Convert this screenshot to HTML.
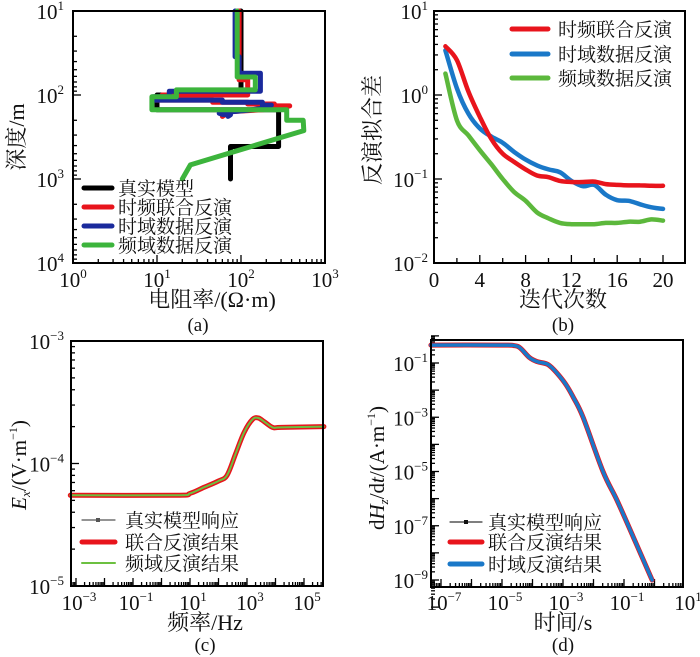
<!DOCTYPE html>
<html><head><meta charset="utf-8">
<style>
html,body{margin:0;padding:0;background:#fff;}
svg{display:block;font-family:"Liberation Serif","Noto Serif CJK SC",serif;}
</style></head>
<body>
<svg id="fig" width="700" height="657" viewBox="0 0 700 657" xmlns="http://www.w3.org/2000/svg"></svg>
<script>
// ---------- Panel (b) data ----------
const iterations = [1,2,3,4,5,6,7,8,9,10,11,12,13,14,15,16,17,18,19,20];
const misfitJoint = [3.8,2.6,1.1,0.55,0.3,0.2,0.16,0.13,0.11,0.105,0.095,0.092,0.092,0.093,0.087,0.085,0.084,0.084,0.083,0.083];
const misfitTime = [3.4,1.2,0.6,0.4,0.32,0.27,0.21,0.17,0.145,0.13,0.12,0.095,0.082,0.085,0.065,0.056,0.055,0.05,0.046,0.044];
const misfitFreq = [1.8,0.5,0.33,0.22,0.15,0.1,0.07,0.055,0.04,0.034,0.03,0.029,0.029,0.029,0.03,0.03,0.031,0.031,0.033,0.032];
// ---------- Panel (a) data: [resistivity, depth] ----------
const modelTrue = [[100,10],[100,100],[10,100],[10,150],[280,150],[280,410],[75,410],[75,1000]];
const modelJoint = [[95,10],[95,66],[120,66],[120,100],[11.5,100],[11.5,107],[9.5,107],[9.5,115],[46,115],[46,122],[120,122],[120,128],[250,128],[250,135],[380,135],[300,142],[180,150],[80,157],[67,167],[60,180]];
const modelTime = [[85,10],[85,35],[95,35],[95,55],[170,55],[170,90],[14,90],[14,105],[9,105],[9,115],[60,115],[60,122],[180,122],[180,132],[230,132],[200,142],[120,152],[70,160],[55,165],[60,170],[75,172],[70,180]];
const modelFreq = [[90,10],[90,61],[148,61],[148,87],[17,87],[17,105],[8.7,105],[8.7,150],[350,150],[350,200],[550,200],[560,265],[315,315],[25,680],[20,1000]];
// ---------- Panel (c) data ----------
const freqLog = [-3.2,0.5,1,1.5,2,2.3,2.6,2.9,3.2,3.4,3.6,3.9,4.2,5.7];
const exValues = [5.5e-5,5.5e-5,5.7e-5,6.4e-5,7.2e-5,8e-5,1.2e-4,1.8e-4,2.3e-4,2.35e-4,2.2e-4,1.97e-4,1.97e-4,2e-4];
// ---------- Panel (d) data ----------
const timeLog = [-7.33,-5,-4.6,-4.4,-4.1,-3.85,-3.5,-3.2,-2.9,-2.67,-2.34,-1.69,-1.23,-0.7,-0.08];
const dhdtLog = [-0.34,-0.34,-0.36,-0.45,-0.8,-0.95,-1.05,-1.37,-1.8,-2.25,-3,-5,-6.06,-7.4,-9];
// ---------- Tick labels ----------
const aXTicks = [0,1,2,3];
const aYTicks = [1,2,3,4];
const bXTicks = [0,4,8,12,16,20];
const bYTicks = [1,0,-1,-2];
const cXTicks = [-3,-1,1,3,5];
const cYTicks = [-3,-4,-5];
const dXTicks = [-7,-5,-3,-1,1];
const dYTicks = [-1,-3,-5,-7,-9];

const NS="http://www.w3.org/2000/svg";
const svg=document.getElementById('fig');
function mk(tag,attrs,parent){const e=document.createElementNS(NS,tag);for(const k in attrs)e.setAttribute(k,attrs[k]);(parent||svg).appendChild(e);return e;}
function lin(d0,d1,p0,p1){return v=>p0+(v-d0)/(d1-d0)*(p1-p0);}
function pw(base,exp,x,y,anchor){
  const t=mk('text',{x:x,y:y,'font-size':21,'text-anchor':anchor||'middle',fill:'#111'});
  
  
  const a=mk('tspan',{},t);a.textContent=base;
  const b=mk('tspan',{'font-size':13,dy:-9},t);b.textContent=exp;
  return t;
}
function frame(x0,y0,x1,y1,name){
  const r=mk('rect',{x:x0,y:y0,width:x1-x0,height:y1-y0,fill:'none',stroke:'#000','stroke-width':2});
  
  
}
function tick(x1,y1,x2,y2){
  const l=mk('line',{x1:x1,y1:y1,x2:x2,y2:y2,stroke:'#000','stroke-width':1.3});
  
  
}
function logTicksY(sy,lo,hi,x,len){for(let d=lo;d<hi;d++){for(let k=1;k<=9;k++){const v=d+Math.log10(k);tick(x,sy(v),x+(k==1?len*2:len),sy(v));}}tick(x,sy(hi),x+len*2,sy(hi));}
function logTicksX(sx,lo,hi,y,len,xmin,xmax){for(let d=Math.floor(lo);d<=hi;d++){for(let k=1;k<=9;k++){const v=d+Math.log10(k);if(v<lo-1e-9||v>hi+1e-9)continue;const px=sx(v);if(px<xmin||px>xmax)continue;tick(px,y,px,y-(k==1?len*2:len));}}}
function poly(pts,color,w,name){
  const p=mk('polyline',{points:pts.map(p=>p[0].toFixed(1)+','+p[1].toFixed(1)).join(' '),fill:'none',stroke:color,'stroke-width':w,'stroke-linejoin':'round','stroke-linecap':'round'});
  
  
}
function smooth(pts,color,w,name){
  let d='M'+pts[0][0].toFixed(1)+','+pts[0][1].toFixed(1);
  for(let i=0;i<pts.length-1;i++){
    const p0=pts[Math.max(0,i-1)],p1=pts[i],p2=pts[i+1],p3=pts[Math.min(pts.length-1,i+2)];
    const c1=[p1[0]+(p2[0]-p0[0])/6,p1[1]+(p2[1]-p0[1])/6];
    const c2=[p2[0]-(p3[0]-p1[0])/6,p2[1]-(p3[1]-p1[1])/6];
    d+=' C'+c1[0].toFixed(1)+','+c1[1].toFixed(1)+' '+c2[0].toFixed(1)+','+c2[1].toFixed(1)+' '+p2[0].toFixed(1)+','+p2[1].toFixed(1);
  }
  const p=mk('path',{d:d,fill:'none',stroke:color,'stroke-width':w,'stroke-linejoin':'round','stroke-linecap':'round'});
  
  
}
function txt(s,x,y,size,anchor,rot,name){
  const t=mk('text',{x:x,y:y,'font-size':size,'text-anchor':anchor||'middle',fill:'#111'});
  if(rot)t.setAttribute('transform','rotate(-90 '+x+' '+y+')');
  t.textContent=s;
  
  
  return t;
}
function legendLine(x1,x2,y,color,w,label,tx,name){
  const l=mk('line',{x1:x1,y1:y,x2:x2,y2:y,stroke:color,'stroke-width':w,'stroke-linecap':'round'});
  
  
  txt(label,tx,y+7,19,'start',false,name+'-label');
}

// ================= Panel (a) =================
{
const sx=lin(0,3,73,325), sy=lin(1,4,11,263);
logTicksY(sy,1,4,73,4);
logTicksX(sx,0,3,263,4,73,325);
const cols=[['#000',modelTrue,'true-model-line'],['#e8141c',modelJoint,'joint-inversion-line'],['#1a2a9c',modelTime,'time-inversion-line'],['#3cb43c',modelFreq,'freq-inversion-line']];
for(const c of cols){poly(c[1].map(p=>[sx(Math.log10(p[0])),sy(Math.log10(p[1]))]),c[0],5,c[2]);}
frame(73,11,325,263,'panel-a-frame');
aYTicks.forEach(e=>pw('10',String(e),64,sy(e)+8,'end'));
aXTicks.forEach(e=>pw('10',String(e),sx(e),287));
txt('深度/m',24,137,22,'middle',true,'panel-a-y-title');
txt('电阻率/(Ω·m)',212,307,22,'middle',false,'panel-a-x-title');
txt('(a)',198,331,19,'middle',false,'panel-a-caption');
legendLine(84,112,188,'#000',5,'真实模型',118,'legend-true-model');
legendLine(84,112,207,'#e8141c',5,'时频联合反演',118,'legend-joint');
legendLine(84,112,226,'#1a2a9c',5,'时域数据反演',118,'legend-time');
legendLine(84,112,245,'#3cb43c',5,'频域数据反演',118,'legend-freq');
}
// ================= Panel (b) =================
{
const sx=lin(0,20,434,663), sy=lin(1,-2,11,263);
logTicksY(sy,-2,1,434,4);
for(let v=2;v<=20;v+=2)tick(sx(v),263,sx(v),263-(v%4==0?8:5));
smooth(iterations.map((it,i)=>[sx(it),sy(Math.log10(misfitFreq[i]))]),'#5cb83c',4.5,'freq-misfit-line');
smooth(iterations.map((it,i)=>[sx(it),sy(Math.log10(misfitTime[i]))]),'#1a78c8',4.5,'time-misfit-line');
smooth(iterations.map((it,i)=>[sx(it),sy(Math.log10(misfitJoint[i]))]),'#e8141c',4.5,'joint-misfit-line');
frame(434,11,685,263,'panel-b-frame');
bYTicks.forEach(e=>pw('10',String(e).replace('-','−'),428,sy(e)+8,'end'));
bXTicks.forEach(v=>txt(String(v),sx(v),287,21,'middle',false,'x-tick-label'));
txt('反演拟合差',380,130,22,'middle',true,'panel-b-y-title');
txt('迭代次数',563,307,22,'middle',false,'panel-b-x-title');
txt('(b)',563,331,19,'middle',false,'panel-b-caption');
legendLine(512,548,29,'#e8141c',5,'时频联合反演',558,'legend-joint-b');
legendLine(512,548,54,'#1a78c8',5,'时域数据反演',558,'legend-time-b');
legendLine(512,548,78,'#5cb83c',5,'频域数据反演',558,'legend-freq-b');
}
// ================= Panel (c) =================
{
const sx=lin(-3,5,76,304), sy=lin(-3,-5,341,586);
logTicksY(sy,-5,-3,71,4);
logTicksX(sx,-4,6,586,4,71,323);
const pts=freqLog.map((f,i)=>[sx(f),sy(Math.log10(exValues[i]))]);
smooth(pts,'#555',1,'true-response-line');
smooth(pts,'#e8141c',5,'joint-response-line');
smooth(pts,'#6cc040',2,'freq-response-line');
frame(71,341,323,586,'panel-c-frame');
cYTicks.forEach(e=>pw('10',String(e).replace('-','−'),64,sy(e)+8,'end'));
cXTicks.forEach(e=>pw('10',String(e).replace('-','−'),sx(e)+3,610));
const yt=mk('text',{x:26,y:465,'font-size':21,'text-anchor':'middle',fill:'#111',transform:'rotate(-90 26 465)'});


yt.innerHTML='<tspan font-style="italic">E</tspan><tspan font-style="italic" font-size="13" dy="4">x</tspan><tspan dy="-4">/(V·m</tspan><tspan font-size="12" dy="-9">−1</tspan><tspan dy="9">)</tspan>';
txt('频率/Hz',205,630,22,'middle',false,'panel-c-x-title');
txt('(c)',205,651,19,'middle',false,'panel-c-caption');
legendLine(82,115,520,'#555',1.2,'真实模型响应',125,'legend-true-response');
{const m=mk('rect',{x:96,y:518,width:4,height:4,fill:'#555'});}
legendLine(82,115,542,'#e8141c',5,'联合反演结果',125,'legend-joint-response');
legendLine(82,115,563,'#6cc040',2,'频域反演结果',125,'legend-freq-response');
}
// ================= Panel (d) =================
{
const sx=lin(-7,1,441,685), sy=lin(-1,-9,363,580);
logTicksY(sy,-10,0,431,4);
logTicksX(sx,-8,1,587,4,431,683);
const pts=timeLog.map((t,i)=>[sx(t),sy(dhdtLog[i])]);
smooth(pts,'#e8141c',5,'joint-dhdt-line');
smooth(pts,'#1a78c8',3.5,'time-dhdt-line');
frame(431,340,683,587,'panel-d-frame');
dYTicks.forEach(e=>pw('10',String(e).replace('-','−'),428,sy(e)+8,'end'));
dXTicks.forEach(e=>pw('10',String(e).replace('-','−'),sx(e)+3,610));
const yt=mk('text',{x:384,y:468,'font-size':21,'text-anchor':'middle',fill:'#111',transform:'rotate(-90 384 468)'});


yt.innerHTML='d<tspan font-style="italic">H</tspan><tspan font-style="italic" font-size="13" dy="4">z</tspan><tspan dy="-4">/d</tspan><tspan font-style="italic">t</tspan>/(A·m<tspan font-size="12" dy="-9">−1</tspan><tspan dy="9">)</tspan>';
txt('时间/s',563,630,22,'middle',false,'panel-d-x-title');
txt('(d)',563,651,19,'middle',false,'panel-d-caption');
legendLine(450,482,522,'#333',1.2,'真实模型响应',488,'legend-true-dhdt');
{const m=mk('rect',{x:464,y:520,width:4,height:4,fill:'#111'});}
legendLine(450,482,542,'#e8141c',5,'联合反演结果',488,'legend-joint-dhdt');
legendLine(450,482,564,'#1a78c8',5,'时域反演结果',488,'legend-time-dhdt');
}
</script>
</body></html>
